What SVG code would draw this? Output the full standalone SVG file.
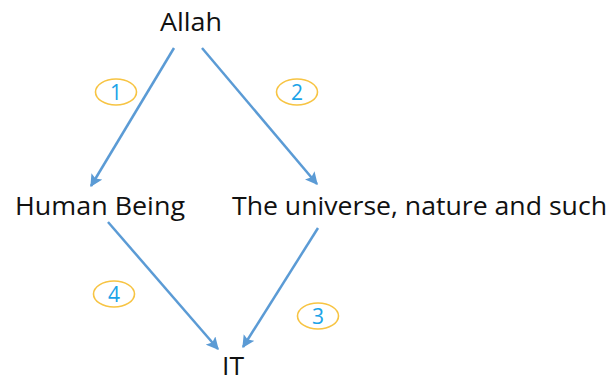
<svg xmlns="http://www.w3.org/2000/svg" width="609" height="382" viewBox="0 0 609 382">
<style>
.lbl{font-family:"Open Sans","Liberation Sans",sans-serif;font-size:25px;fill:#111}
.num{font-family:"Open Sans","Liberation Sans",sans-serif;font-size:21px;fill:#1AA3E8;text-anchor:middle}
.ov{fill:none;stroke:#F7C443;stroke-width:1.6}
.ar{stroke:#5B9BD5;stroke-width:2.5;fill:none;marker-end:url(#ah)}
</style>
<defs>
<marker id="ah" viewBox="0 0 10 10" refX="9" refY="5" markerWidth="5" markerHeight="5" orient="auto" markerUnits="strokeWidth">
<path d="M0,0 L10,5 L0,10 L2,5 z" fill="#5B9BD5"/>
</marker>
</defs>
<rect width="609" height="382" fill="#fff"/>
<g id="connectors">
<line class="ar" x1="174" y1="48" x2="91" y2="186"/>
<line class="ar" x1="202" y1="48" x2="317" y2="184"/>
<line class="ar" x1="318" y1="228" x2="243" y2="347"/>
<line class="ar" x1="108" y1="222" x2="218" y2="349"/>
</g>
<g id="allah"><text class="lbl" x="160" y="31" textLength="62" lengthAdjust="spacingAndGlyphs">Allah</text></g>
<g id="human"><text class="lbl" x="15" y="215" textLength="170" lengthAdjust="spacingAndGlyphs">Human Being</text></g>
<g id="universe"><text class="lbl" x="232" y="215" textLength="375" lengthAdjust="spacingAndGlyphs">The universe, nature and such</text></g>
<g id="it"><text class="lbl" x="222" y="375" textLength="22" lengthAdjust="spacingAndGlyphs">IT</text></g>
<g id="n1"><ellipse class="ov" cx="116" cy="92" rx="20.5" ry="13"/><text class="num" x="116" y="99.5">1</text></g>
<g id="n2"><ellipse class="ov" cx="297" cy="92" rx="20.5" ry="13"/><text class="num" x="297" y="99.5">2</text></g>
<g id="n3"><ellipse class="ov" cx="318" cy="316" rx="20.5" ry="13"/><text class="num" x="318" y="323.5">3</text></g>
<g id="n4"><ellipse class="ov" cx="114" cy="294" rx="20.5" ry="13"/><text class="num" x="114" y="301.5">4</text></g>
</svg>
